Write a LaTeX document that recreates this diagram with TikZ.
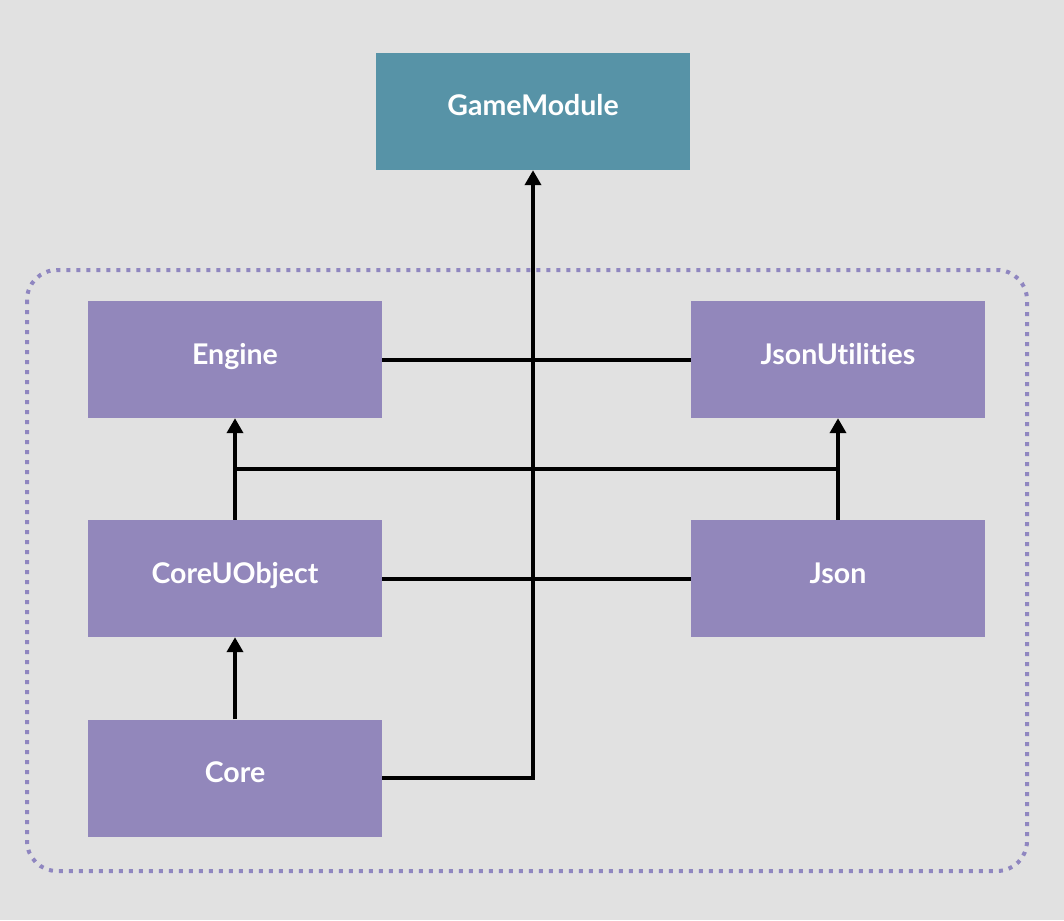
\documentclass[tikz,border=0pt]{standalone}
\usepackage{fontspec}
\setmainfont{Lato}[Ligatures={NoCommon}]
\usetikzlibrary{arrows.meta}
\definecolor{bgc}{HTML}{E1E1E1}
\definecolor{teal1}{HTML}{5793A7}
\definecolor{purp}{HTML}{9287BB}
\definecolor{dotc}{HTML}{8F86C0}
\begin{document}
\begin{tikzpicture}[x=1pt,y=-1pt,
  box/.style={draw=none,minimum width=294pt,minimum height=117pt,inner sep=0pt,text=white,text height=18pt,text depth=9pt,font=\fontsize{28.5}{34}\selectfont\bfseries},
  mbox/.style={box,fill=purp},
  conn/.style={line width=4.5pt,black},
  arr/.style={conn,-{Triangle[width=16pt,length=15pt]}}]
\fill[bgc] (0,0) rectangle (1064,920);
\useasboundingbox (0,0) rectangle (1064,920);
\draw[dotc,line width=4pt,dash pattern=on 4pt off 6pt,rounded corners=30pt] (27,270) rectangle (1027,871);
\node[box,fill=teal1,minimum width=314pt] (gm) at (533,111.5) {GameModule};
\node[mbox] (engine) at (235,359.5) {Engine};
\node[mbox] (jsonu) at (838,359.5) {JsonUtilities};
\node[mbox] (cuo) at (235,578.5) {CoreUObject};
\node[mbox] (json) at (838,578.5) {Json};
\node[mbox] (core) at (235,778) {Core};
\coordinate (j) at (235,469);
\coordinate (k) at (838,469);
\draw[conn,line width=4pt] (engine.east) -- (jsonu.west);
\draw[conn,line width=4pt] (cuo.east) -- (json.west);
\draw[conn,line width=4pt] (j) -- (k);
\draw[arr] (cuo.north) -- (engine.south);
\draw[arr] (json.north) -- (jsonu.south);
\draw[arr] (core.north) -- (cuo.south);
\draw[arr] (core.east) -| (gm.south);
\end{tikzpicture}
\end{document}
